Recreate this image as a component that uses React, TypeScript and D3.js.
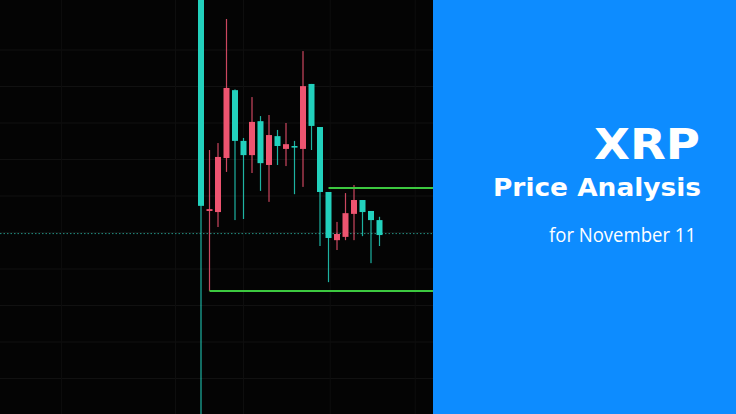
import * as d3 from "d3";

// candles (price units), left to right
const candleOpen = [0.4073, 0.4064, 0.4207, 0.4396, 0.4251, 0.4212, 0.4303, 0.4190, 0.4267, 0.4237, 0.4242, 0.4234, 0.4401, 0.4292, 0.4111, 0.3985, 0.3996, 0.4053, 0.4089, 0.4056, 0.4034, 0.3993];
const candleHigh = [0.4801, 0.4226, 0.4245, 0.4585, 0.4392, 0.4259, 0.4371, 0.4319, 0.4322, 0.4281, 0.4300, 0.4251, 0.4497, 0.4407, 0.4289, 0.4111, 0.4029, 0.4108, 0.4130, 0.4089, 0.4059, 0.4043];
const candleLow = [0.3459, 0.3840, 0.4015, 0.4166, 0.4034, 0.4037, 0.4163, 0.4114, 0.4084, 0.4185, 0.4182, 0.4105, 0.4125, 0.4226, 0.3963, 0.3864, 0.3952, 0.3979, 0.3979, 0.3990, 0.3916, 0.3963];
const candleClose = [0.4747, 0.4059, 0.4056, 0.4204, 0.4390, 0.4251, 0.4212, 0.4305, 0.4185, 0.4264, 0.4229, 0.4237, 0.4229, 0.4407, 0.4289, 0.4111, 0.3979, 0.3988, 0.4051, 0.4089, 0.4059, 0.4034];

const priceGrid = [0.45, 0.44, 0.43, 0.42, 0.41, 0.40, 0.39, 0.38, 0.37, 0.36];
const timeGrid = [-16.4, -3, 5, 15.2, 25.2];

const lastPrice = 0.3997;
const supportLevel = 0.3840;
const supportFrom = 1;
const resistanceLevel = 0.4122;
const resistanceFrom = 15;

const title = "XRP";
const subtitle = "Price Analysis";
const dateLine = "for November 11";

const W = 736;
const H = 414;
const panelX = 433;

export default function App() {
    const x = d3.scaleLinear().domain([0, 21]).range([201, 379.5]);
    const y = d3.scaleLinear().domain([0.36, 0.45]).range([378.5, 50]);
    const bodyW = 6;
    const up = "#22d1bd";
    const down = "#ee5470";

    return <svg width={W} height={H} viewBox={`0 0 ${W} ${H}`}
                style={{position: "fixed", left: 0, top: 0, display: "block"}}>
        <rect x={0} y={0} width={W} height={H} fill="#040404"/>
        {/* faint grid */}
        {priceGrid.map(p => <line key={"h" + p} x1={0} x2={panelX} y1={y(p)} y2={y(p)} stroke="#111111" strokeWidth={1}/>)}
        {timeGrid.map(t => <line key={"v" + t} x1={x(t)} x2={x(t)} y1={0} y2={H} stroke="#0e0e0e" strokeWidth={1}/>)}

        {/* last price */}
        <line x1={0} x2={panelX} y1={y(lastPrice)} y2={y(lastPrice)} stroke="#2bb3a3" strokeWidth={1}
              strokeDasharray="1.5 2" opacity={0.8}/>

        {/* candles */}
        {candleOpen.map((o, i) => {
            const c = candleClose[i];
            const col = c >= o ? up : down;
            const top = y(Math.max(o, c));
            const bh = Math.max(1.6, y(Math.min(o, c)) - top);
            return <g key={i}>
                <rect x={x(i) - 0.6} width={1.2} y={y(candleHigh[i])} height={y(candleLow[i]) - y(candleHigh[i])} fill={col} opacity={0.85}/>
                <rect x={x(i) - bodyW / 2} width={bodyW} y={top} height={bh} fill={col}/>
            </g>
        })}

        {/* support / resistance */}
        <line x1={x(supportFrom)} x2={panelX} y1={y(supportLevel)} y2={y(supportLevel)} stroke="#3cc83f" strokeWidth={2}/>
        <line x1={x(resistanceFrom)} x2={panelX} y1={y(resistanceLevel)} y2={y(resistanceLevel)} stroke="#3cc83f" strokeWidth={2}/>

        {/* title panel */}
        <rect x={panelX} y={0} width={W - panelX} height={H} fill="#0d8cff"/>
        <text x={700} y={159} textAnchor="end" fill="#fff" fontFamily="'DejaVu Sans', sans-serif" fontWeight={700}
              fontSize={43} textLength={106} lengthAdjust="spacingAndGlyphs">{title}</text>
        <text x={701} y={196} textAnchor="end" fill="#fff" fontFamily="'DejaVu Sans', sans-serif" fontWeight={700}
              fontSize={25} textLength={208} lengthAdjust="spacingAndGlyphs">{subtitle}</text>
        <text x={696} y={242} textAnchor="end" fill="#fff" fontFamily="'Open Sans', sans-serif" fontWeight={400}
              fontSize={20} textLength={147} lengthAdjust="spacingAndGlyphs">{dateLine}</text>
    </svg>
}
